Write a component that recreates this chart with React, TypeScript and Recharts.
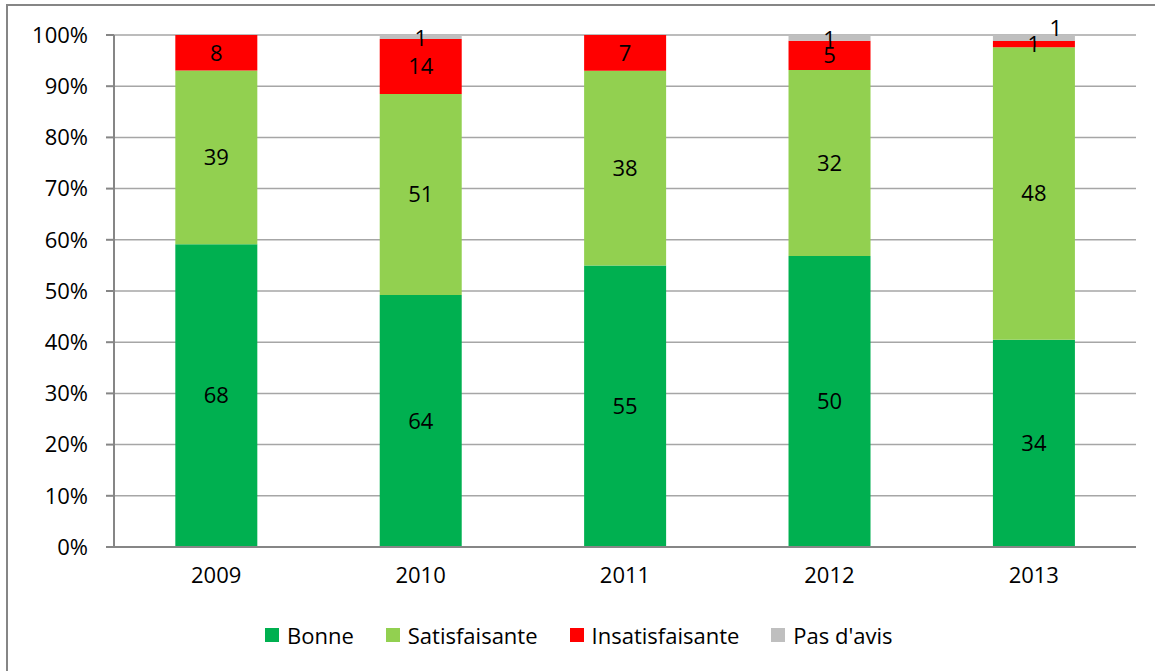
import { BarChart, Bar, XAxis, YAxis, CartesianGrid, Legend, LabelList } from "recharts";

const years = ["2009", "2010", "2011", "2012", "2013"];
const bonne = [68, 64, 55, 50, 34];
const satisfaisante = [39, 51, 38, 32, 48];
const insatisfaisante = [8, 14, 7, 5, 1];
const pasAvis = [0, 1, 0, 1, 1];
const yTicks = [0, 0.1, 0.2, 0.3, 0.4, 0.5, 0.6, 0.7, 0.8, 0.9, 1];

const series = [
  { key: "bonne", name: "Bonne", color: "#00b050", values: bonne },
  { key: "satisfaisante", name: "Satisfaisante", color: "#92d050", values: satisfaisante },
  { key: "insatisfaisante", name: "Insatisfaisante", color: "#ff0000", values: insatisfaisante },
  { key: "pasAvis", name: "Pas d'avis", color: "#bfbfbf", values: pasAvis },
];

const data = years.map((year, i) => {
  const row: Record<string, string | number> = { year };
  for (const s of series) row[s.key] = s.values[i];
  return row;
});

const font = "'Open Sans', sans-serif";
const fontSize = 22;
const axisGray = "#868686";

// grey label (keyed by year) goes above the bar when the red segment under it is tiny too
function renderTopLabel(props: any) {
  const box = props.viewBox && props.viewBox.width != null ? props.viewBox : props;
  const x = Number(box.x);
  const y = Number(box.y);
  const width = Number(box.width);
  const height = Number(box.height);
  const idx = years.indexOf(String(props.value));
  if (idx < 0) return null;
  const value = pasAvis[idx];
  if (!value) return null;
  const red = insatisfaisante[idx];
  const total = bonne[idx] + satisfaisante[idx] + red + value;
  const crowded = red / total < 0.03;
  const cx = x + width / 2 + (crowded ? 22 : 0);
  const cy = crowded ? y - 8 : y + height / 2;
  return (
    <text
      key={`top-${idx}`}
      x={cx}
      y={cy}
      textAnchor="middle"
      dominantBaseline="central"
      fontSize={fontSize}
      fontFamily={font}
      fill="#000"
    >
      {value}
    </text>
  );
}

function LegendContent() {
  return (
    <div style={{ display: "flex", alignItems: "center", fontFamily: font, fontSize, color: "#000", whiteSpace: "nowrap" }}>
      {series.map((s) => (
        <div key={s.key} style={{ display: "flex", alignItems: "center", marginRight: 32 }}>
          <span style={{ width: 14, height: 14, background: s.color, display: "inline-block", marginRight: 8 }} />
          <span>{s.name}</span>
        </div>
      ))}
    </div>
  );
}

export default function App() {
  return (
    <div style={{ position: "relative", width: 1155, height: 671, overflow: "hidden", fontFamily: font }}>
      <style>{`body{margin:0}`}</style>
      <div
        style={{
          position: "absolute",
          left: 6,
          top: 4,
          width: 1300,
          height: 800,
          border: `2px solid ${axisGray}`,
        }}
      />
      <div style={{ position: "absolute", left: 0, top: 0 }}>
        <BarChart
          width={1155}
          height={671}
          data={data}
          stackOffset="expand"
          barCategoryGap="30%"
          margin={{ top: 35, right: 19, left: 0, bottom: 64 }}
        >
          <CartesianGrid vertical={false} stroke="#a6a6a6" strokeWidth={1.5} />
          <XAxis
            dataKey="year"
            xAxisId="cat"
            tickLine={false}
            tickSize={8}
            tickMargin={12}
            axisLine={{ stroke: axisGray, strokeWidth: 2 }}
            tick={{ fontSize, fill: "#000", fontFamily: font }}
          />
          <XAxis
            xAxisId="edges"
            type="number"
            domain={[0, 5]}
            ticks={[0, 1, 2, 3, 4, 5]}
            tick={false}
            tickSize={8}
            axisLine={false}
            tickLine={{ stroke: axisGray, strokeWidth: 2 }}
            height={0}
          />
          <YAxis
            width={114}
            domain={[0, 1]}
            ticks={yTicks}
            tickFormatter={(v: number) => `${Math.round(v * 100)}%`}
            tickSize={8}
            tickMargin={18}
            axisLine={{ stroke: axisGray, strokeWidth: 2 }}
            tickLine={{ stroke: axisGray, strokeWidth: 2 }}
            tick={{ fontSize, fill: "#000", fontFamily: font }}
          />
          <Legend
            verticalAlign="bottom"
            content={<LegendContent />}
            wrapperStyle={{ top: 620, bottom: "auto", left: 265, width: "auto", height: 30 }}
          />
          {series.map((s) => (
            <Bar
              key={s.key}
              dataKey={s.key}
              name={s.name}
              stackId="a"
              xAxisId="cat"
              fill={s.color}
              isAnimationActive={false}
            >
              {s.key === "pasAvis" ? (
                <LabelList dataKey="year" content={renderTopLabel} />
              ) : (
                <LabelList
                  dataKey={s.key}
                  position="center"
                  formatter={(v: number) => (v ? v : "")}
                  style={{ fontSize, fill: "#000", fontFamily: font }}
                />
              )}
            </Bar>
          ))}
        </BarChart>
      </div>
    </div>
  );
}
